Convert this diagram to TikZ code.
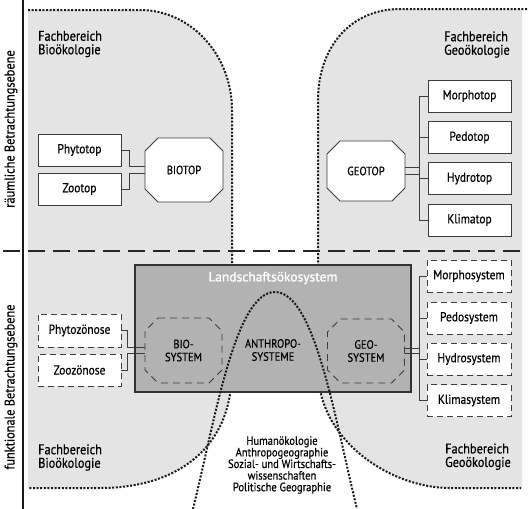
\documentclass[tikz,border=0pt]{standalone}
\usepackage{fontspec}
\setmainfont[FakeStretch=0.88,FakeBold=0.5]{PT Sans}
\newfontfamily\widefont[FakeBold=1.2]{PT Sans}
\usetikzlibrary{calc}
\definecolor{regiongrey}{HTML}{E4E4E4}
\definecolor{boxgrey}{HTML}{B2B2B2}
\definecolor{inkgrey}{HTML}{3C3C3C}
\newcommand\myocta[3][]{\draw[#1] ([xshift=#3]#2.north west) -- ([xshift=-#3]#2.north east) -- ([yshift=-#3]#2.north east) -- ([yshift=#3]#2.south east) -- ([xshift=-#3]#2.south east) -- ([xshift=#3]#2.south west) -- ([yshift=#3]#2.south west) -- ([yshift=-#3]#2.north west) -- cycle;}
\begin{document}
\begin{tikzpicture}[x=1pt,y=-1pt,
  topbox/.style={draw=inkgrey, line width=0.9pt, fill=white, minimum width=83pt, minimum height=32pt, inner sep=0pt, outer sep=0pt, font=\fontsize{13}{14}\selectfont},
  dashbox/.style={topbox, minimum width=84pt, dash pattern=on 6pt off 4pt},
  octframe/.style={minimum width=78pt, minimum height=64pt, inner sep=0pt, outer sep=0pt, align=center, font=\fontsize{12}{13}\selectfont},
  octtext/.style={font=\fontsize{12}{13}\selectfont, align=center, inner sep=0pt},
  octline/.style={draw=inkgrey, line width=0.9pt, fill=white},
  octdash/.style={draw=inkgrey, line width=0.9pt, dash pattern=on 7pt off 5pt},
  dotline/.style={draw=black!90, line width=2pt, dash pattern=on 2pt off 1.6pt},
  conn/.style={draw=inkgrey, line width=0.9pt},
  fachtext/.style={font=\fontsize{14}{13.5}\selectfont, align=left, anchor=west, inner sep=0pt},
  levtext/.style={font=\fontsize{14}{14}\selectfont, rotate=90, inner sep=0pt}]
\useasboundingbox (0,0) rectangle (528,509);
% regions
\fill[regiongrey] (28,10) -- (140,10) .. controls (191,10) and (232,55) .. (232,110) -- (232,370) .. controls (232,450) and (175,488) .. (100,488) -- (28,488) -- cycle;
\fill[regiongrey] (522,9) -- (400,9) .. controls (350,9) and (318,48) .. (318,100) -- (318,370) .. controls (318,440) and (390,488) .. (450,488) -- (522,488) -- cycle;
\draw[dotline] (28,10) -- (140,10) .. controls (191,10) and (232,55) .. (232,110) -- (232,370) .. controls (232,450) and (175,488) .. (100,488) -- (28,488);
\draw[dotline] (527,9) -- (400,9) .. controls (350,9) and (318,48) .. (318,100) -- (318,370) .. controls (318,440) and (390,488) .. (450,488) -- (521,488);
% axes
\draw[line width=2pt, black!90] (22.5,0) -- (22.5,509);
\draw[line width=2.2pt, black!85, dash pattern=on 16.5pt off 8.5pt] (3,251) -- (528,251);
\node[levtext] (raeumlich) at (11,129) {räumliche Betrachtungsebene};
\node[levtext] (funktional) at (11,387) {funktionale Betrachtungsebene};
% Fachbereich labels
\node[fachtext] (fbtl) at (38,44) {Fachbereich\\Bioökologie};
\node[fachtext] (fbtr) at (444,44.5) {Fachbereich\\Geoökologie};
\node[fachtext] (fbbl) at (38,457.5) {Fachbereich\\Bioökologie};
\node[fachtext] (fbbr) at (445,456.7) {Fachbereich\\Geoökologie};
% top left
\node[topbox] (phytotop) at (79.5,150) {Phytotop};
\node[topbox] (zootop) at (79.5,189) {Zootop};
\node[octframe] (biotop) at (184,170) {};
\myocta[octline]{biotop}{13pt}
\node[octtext] (biotoplbl) at (biotop.center) {BIOTOP};
\coordinate (bbus) at (129,0);
\coordinate (bin1) at ([yshift=3.3pt]biotop.west);
\coordinate (bin2) at ([yshift=-3.3pt]biotop.west);
\draw[conn] (phytotop.east) -- (phytotop.east -| bbus) -- (bin1 -| bbus) -- (bin1);
\draw[conn] (zootop.east) -- (zootop.east -| bbus) -- (bin2 -| bbus) -- (bin2);
% top right
\node[octframe, minimum height=60pt] (geotop) at (366,171) {};
\myocta[octline]{geotop}{13pt}
\node[octtext] (geotoplbl) at (geotop.center) {GEOTOP};
\node[topbox] (morphotop) at (469.5,96) {Morphotop};
\node[topbox] (pedotop) at (469.5,137.5) {Pedotop};
\node[topbox] (hydrotop) at (469.5,178.5) {Hydrotop};
\node[topbox] (klimatop) at (469.5,220) {Klimatop};
\coordinate (gbus) at (419,0);
\draw[conn] (gbus |- morphotop.west) -- (gbus |- klimatop.west);
\foreach \b in {morphotop,pedotop,hydrotop,klimatop} \draw[conn] (gbus |- \b.west) -- (\b.west);
\coordinate (gout1) at ([yshift=3.3pt]geotop.east);
\coordinate (gout2) at ([yshift=-3.3pt]geotop.east);
\draw[conn] (gout1) -- (gout1 -| gbus);
\draw[conn] (gout2) -- (gout2 -| gbus);
% Landschaftsoekosystem
\node[draw=black!80, fill=boxgrey, line width=2pt, minimum width=276pt, minimum height=127pt, inner sep=0pt, outer sep=0pt] (lsys) at (273,328) {};
\node[text=white, font=\widefont\fontsize{13.5}{14}\selectfont, inner sep=0pt] (lsystitle) at (273,278) {Landschaftsökosystem};
\draw[dotline] (193,509) .. controls (215,420) and (235,292) .. (275,292) .. controls (315,292) and (335,420) .. (357,509);
\node[octtext] (anthro) at (273,350) {ANTHROPO-\\SYSTEME};
\node[octframe, minimum width=77pt, minimum height=65pt] (biosys) at (183.5,350.5) {BIO-\\SYSTEM};
\myocta[octdash]{biosys}{13pt}
\node[octframe, minimum width=77pt, minimum height=64pt] (geosys) at (366,351) {GEO-\\SYSTEM};
\myocta[octdash]{geosys}{13pt}
% bottom left
\node[dashbox, minimum width=83pt, minimum height=33pt] (phytozoe) at (79.5,330.5) {Phytozönose};
\node[dashbox, minimum width=83pt] (zoozoe) at (79.5,370) {Zoozönose};
\coordinate (lbus) at (127.5,0);
\coordinate (bs1) at ([yshift=3pt]biosys.west);
\coordinate (bs2) at ([yshift=-3pt]biosys.west);
\draw[conn] (phytozoe.east) -- (phytozoe.east -| lbus) -- (bs1 -| lbus) -- (bs1);
\draw[conn] (zoozoe.east) -- (zoozoe.east -| lbus) -- (bs2 -| lbus) -- (bs2);
% bottom right
\node[dashbox] (morphosys) at (469,276) {Morphosystem};
\node[dashbox] (pedosys) at (469,318) {Pedosystem};
\node[dashbox] (hydrosys) at (469,359) {Hydrosystem};
\node[dashbox] (klimasys) at (469,400.5) {Klimasystem};
\coordinate (rbus) at (419,0);
\draw[conn] (rbus |- morphosys.west) -- (rbus |- klimasys.west);
\foreach \b in {morphosys,pedosys,hydrosys,klimasys} \draw[conn] (rbus |- \b.west) -- (\b.west);
\coordinate (gs1) at ([yshift=2.7pt]geosys.east);
\coordinate (gs2) at ([yshift=-2.7pt]geosys.east);
\draw[conn] (gs1) -- (gs1 -| rbus);
\draw[conn] (gs2) -- (gs2 -| rbus);
% centre text
\node[align=center, font=\fontsize{12}{11.6}\selectfont, inner sep=0pt] (fields) at (282,465) {Humanökologie\\Anthropogeographie\\Sozial- und Wirtschafts-\\wissenschaften\\Politische Geographie};
\end{tikzpicture}
\end{document}
